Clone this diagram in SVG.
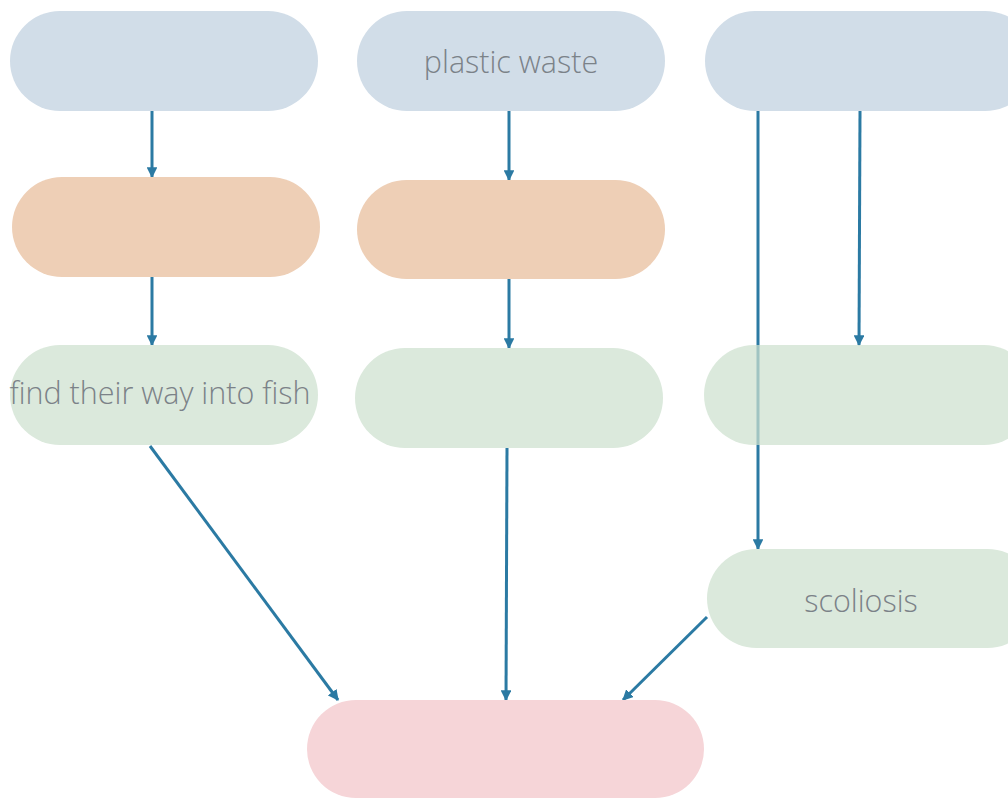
<svg xmlns="http://www.w3.org/2000/svg" width="1008" height="798" viewBox="0 0 1008 798">
  <defs>
    <marker id="arrow" viewBox="0 0 10 10" refX="9" refY="5" markerWidth="3.6" markerHeight="3.6" orient="auto" markerUnits="strokeWidth">
      <path d="M0,0 L10,5 L0,10 z" fill="#2b7aa3"/>
    </marker>
    <style>
      .blue { fill: #d1dde8; }
      .orange { fill: #eecfb6; }
      .green { fill: #dbe9dc; }
      .pink { fill: #f6d5d8; }
      .label { font-family: "Open Sans", "Liberation Sans", sans-serif; font-weight: 300; font-size: 30.5px; fill: #7b8288; text-anchor: middle; }
      .edge { stroke: #2b7aa3; stroke-width: 3; fill: none; marker-end: url(#arrow); }
    </style>
  </defs>
  <rect width="1008" height="798" fill="#ffffff"/>

  <g id="connectors">
    <line class="edge" x1="152" y1="111" x2="152" y2="177"/>
    <line class="edge" x1="509" y1="111" x2="509" y2="180"/>
    <line class="edge" x1="758" y1="111" x2="758" y2="549"/>
    <line class="edge" x1="860" y1="111" x2="859" y2="345"/>
    <line class="edge" x1="152" y1="277" x2="152" y2="345"/>
    <line class="edge" x1="509" y1="279" x2="509" y2="348"/>
    <line class="edge" x1="150" y1="446" x2="338" y2="700"/>
    <line class="edge" x1="507" y1="448" x2="506" y2="700"/>
    <line class="edge" x1="707" y1="617" x2="623" y2="700"/>
  </g>

  <g id="node-top-left"><rect class="blue" x="10" y="11" width="308" height="100" rx="50"/></g>
  <g id="node-plastic-waste">
    <rect class="blue" x="357" y="11" width="308" height="100" rx="50"/>
    <text class="label" x="511" y="73">plastic waste</text>
  </g>
  <g id="node-top-right"><rect class="blue" x="705" y="11" width="330" height="100" rx="50"/></g>

  <g id="node-mid-left"><rect class="orange" x="12" y="177" width="308" height="100" rx="50"/></g>
  <g id="node-mid-center"><rect class="orange" x="357" y="180" width="308" height="99" rx="49.5"/></g>

  <g id="node-fish">
    <rect class="green" x="10" y="345" width="308" height="100" rx="50"/>
    <text class="label" x="160" y="404">find their way into fish</text>
  </g>
  <g id="node-green-center"><rect class="green" x="355" y="348" width="308" height="100" rx="50"/></g>
  <g id="node-green-right"><rect x="704" y="345" width="330" height="100" rx="50" fill="#cde1ce" fill-opacity="0.72"/></g>

  <g id="node-scoliosis">
    <rect class="green" x="707" y="549" width="330" height="99" rx="49.5"/>
    <text class="label" x="861" y="612">scoliosis</text>
  </g>

  <g id="node-bottom"><rect class="pink" x="307" y="700" width="397" height="98" rx="49"/></g>
</svg>
